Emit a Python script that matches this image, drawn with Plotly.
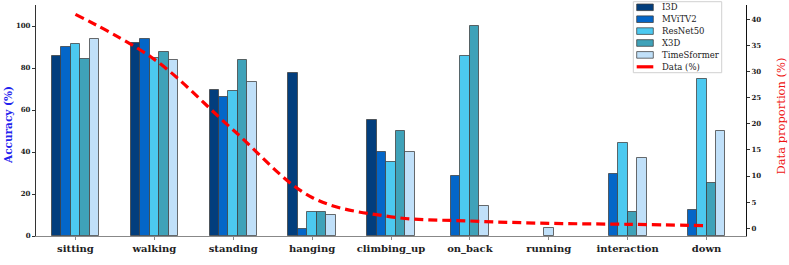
import plotly.graph_objects as go

categories = ["sitting", "walking", "standing", "hanging", "climbing_up",
              "on_back", "running", "interaction", "down"]
models = ["I3D", "MViTV2", "ResNet50", "X3D", "TimeSformer"]
i3d = [85.7, 91.7, 69.5, 77.4, 55.1, 0, 0, 0, 0]
mvitv2 = [90.2, 93.6, 66.3, 3.3, 40.2, 28.7, 0, 29.7, 12.6]
resnet50 = [91.3, 85.0, 69.2, 11.3, 35.1, 85.7, 0, 44.4, 75.0]
x3d = [84.1, 87.8, 84.0, 11.3, 50.0, 100.0, 0, 11.3, 25.3]
timesformer = [93.8, 83.6, 73.3, 9.8, 40.2, 14.4, 4.0, 37.3, 50.2]
data_pct = [40.9, 32.3, 18.8, 5.9, 2.2, 1.4, 0.95, 0.77, 0.5]
left_ticks = [0, 20, 40, 60, 80, 100]
right_ticks = [0, 5, 10, 15, 20, 25, 30, 35, 40]

colors = ["#023e7d", "#0466c8", "#4cc9f0", "#3fa2b9", "#c0e0f9"]
series = [i3d, mvitv2, resnet50, x3d, timesformer]

FONT = "DejaVu Serif"
BAR_W = 0.12

# positions: only non-zero bars in each group, centred on the category
xs = {m: [] for m in models}
ys = {m: [] for m in models}
for i, _ in enumerate(categories):
    present = [j for j in range(len(models)) if series[j][i] > 0]
    n = len(present)
    for k, j in enumerate(present):
        xs[models[j]].append(i + (k - (n - 1) / 2) * BAR_W)
        ys[models[j]].append(series[j][i])

fig = go.Figure()
for j, m in enumerate(models):
    fig.add_trace(go.Bar(
        x=xs[m], y=ys[m], width=BAR_W, name=m,
        marker=dict(color=colors[j], line=dict(color="rgba(60,60,60,0.75)", width=1)),
        showlegend=False, yaxis="y"))

fig.add_trace(go.Scatter(
    x=list(range(len(categories))), y=data_pct, mode="lines", name="Data (%)",
    line=dict(color="#ff0000", width=3.2, dash="9px,5px", shape="spline", smoothing=1.0),
    yaxis="y2", showlegend=False))

fig.update_layout(
    width=789, height=265,
    margin=dict(l=36, r=43, t=5, b=29),
    paper_bgcolor="white", plot_bgcolor="white",
    barmode="overlay", bargap=0,
    font=dict(family=FONT, color="#222"),
    xaxis=dict(range=[-0.5, len(categories) - 0.5], tickmode="array",
               tickvals=list(range(len(categories))), ticktext=categories,
               tickfont=dict(size=10, family=FONT, color="#222", weight="bold"),
               showline=True, linecolor="#888", linewidth=1.2, automargin=False,
               ticks="outside", ticklen=3, tickcolor="#888", showgrid=False, zeroline=False),
    yaxis=dict(range=[0, 110], tickvals=left_ticks, automargin=False,
               tickfont=dict(size=7, family=FONT, color="#222", weight="bold"),
               showline=True, linecolor="#333", linewidth=1.2,
               ticks="outside", ticklen=3, tickcolor="#333", showgrid=False, zeroline=False),
    yaxis2=dict(range=[-1.47, 42.7], tickvals=right_ticks, overlaying="y", side="right",
                automargin=False,
                tickfont=dict(size=7, family=FONT, color="#222", weight="bold"),
                showline=True, linecolor="#111", linewidth=1.2,
                ticks="outside", ticklen=3, tickcolor="#333", showgrid=False, zeroline=False),
)

# legend and axis titles drawn in paper coordinates
PL, PR, PT, PB = 36, 746, 5, 236
def px2x(px):
    return (px - PL) / (PR - PL)
def py2y(py):
    return (PB - py) / (PB - PT)

shapes = [dict(type="rect", xref="paper", yref="paper",
               x0=px2x(633.3), x1=px2x(721.7), y0=py2y(72.7), y1=py2y(1.7),
               fillcolor="rgba(255,255,255,0.9)", line=dict(color="#d0d0d0", width=1), layer="above")]
annotations = []
labels = models + ["Data (%)"]
for k, lab in enumerate(labels):
    cy = 7.3 + k * 11.9
    if k < len(models):
        shapes.append(dict(type="rect", xref="paper", yref="paper",
                           x0=px2x(636.7), x1=px2x(653.3), y0=py2y(cy + 3.3), y1=py2y(cy - 3.3),
                           fillcolor=colors[k], line=dict(color="rgba(60,60,60,0.75)", width=1), layer="above"))
    else:
        shapes.append(dict(type="line", xref="paper", yref="paper",
                           x0=px2x(636.7), x1=px2x(653.3), y0=py2y(cy), y1=py2y(cy),
                           line=dict(color="#ff0000", width=3.2), layer="above"))
    annotations.append(dict(xref="paper", yref="paper", x=px2x(660), y=py2y(cy),
                            xanchor="left", yanchor="middle", text=lab, showarrow=False,
                            font=dict(size=8.5, family=FONT, color="#222")))

annotations.append(dict(xref="paper", yref="paper", x=px2x(8), y=py2y(125),
                        xanchor="center", yanchor="middle", text="Accuracy (%)", showarrow=False,
                        textangle=-90, font=dict(size=10.5, family=FONT, color="#2222ee", weight="bold")))
annotations.append(dict(xref="paper", yref="paper", x=px2x(780), y=py2y(116.5),
                        xanchor="center", yanchor="middle", text="Data proportion (%)", showarrow=False,
                        textangle=-90, font=dict(size=11.5, family=FONT, color="#ee1111")))
fig.update_layout(shapes=shapes, annotations=annotations)

fig.write_html("out.html", config={"displayModeBar": False},
               post_script="document.body.style.margin='0px';")
